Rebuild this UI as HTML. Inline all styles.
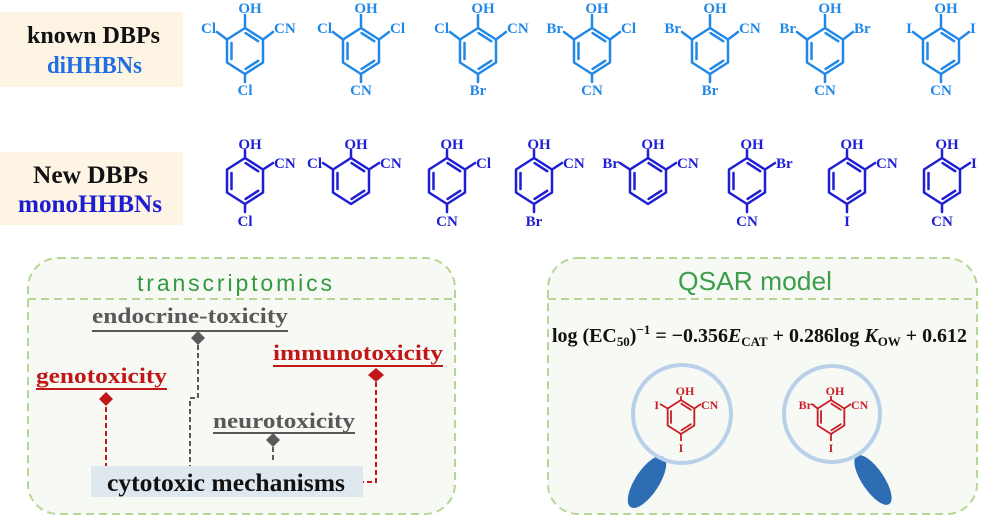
<!DOCTYPE html>
<html><head><meta charset="utf-8">
<style>
html,body{margin:0;padding:0;background:#fff;}
svg{display:block;}
.m{font-family:"Liberation Serif",serif;font-weight:bold;font-size:15px;}
.s{font-family:"Liberation Serif",serif;font-weight:bold;}
.g{font-family:"Liberation Sans",sans-serif;}
</style></head>
<body>
<svg width="981" height="516" viewBox="0 0 981 516" xmlns="http://www.w3.org/2000/svg">
<defs>
<g id="r" fill="none" stroke-width="2.5" stroke-linejoin="round" stroke-linecap="round">
<path d="M0,-23 L18,-11.5 L18,11.5 L0,23 L-18,11.5 L-18,-11.5 Z"/>
<path d="M-13.5,-8 V8 M0.6,-17.9 L13.2,-9.8 M13.2,9.8 L0.6,17.9"/>
</g>
</defs>

<!-- label boxes -->
<rect x="0" y="12" width="183" height="75" fill="#fdf4e4"/>
<text class="s" x="27" y="43" font-size="24" textLength="133" lengthAdjust="spacingAndGlyphs" fill="#111">known DBPs</text>
<text class="s" x="47" y="73" font-size="24" textLength="95" lengthAdjust="spacingAndGlyphs" fill="#1f6fe0">diHHBNs</text>

<rect x="0" y="152" width="183" height="73" fill="#fdf4e4"/>
<text class="s" x="33" y="183" font-size="25" textLength="115" lengthAdjust="spacingAndGlyphs" fill="#111">New DBPs</text>
<text class="s" x="18" y="212" font-size="25" textLength="144" lengthAdjust="spacingAndGlyphs" fill="#1c1cd0">monoHHBNs</text>

<!-- Row 1 -->
<g stroke="#2288e8" fill="#2288e8">
<use href="#r" x="245" y="51"/><use href="#r" x="361" y="51"/><use href="#r" x="478" y="51"/>
<use href="#r" x="592" y="51"/><use href="#r" x="710" y="51"/><use href="#r" x="825" y="51"/>
<use href="#r" x="941" y="51"/>
<path fill="none" stroke-width="2.5" stroke-linecap="round" d="
M245,28V15 M227,39.5L217,32 M263,39.5L273,32 M245,74V82
M361,28V15 M343,39.5L333,32 M379,39.5L389,32 M361,74V82
M478,28V15 M460,39.5L450,32 M496,39.5L506,32 M478,74V82
M592,28V15 M574,39.5L564,32 M610,39.5L620,32 M592,74V82
M710,28V15 M692,39.5L682,32 M728,39.5L738,32 M710,74V82
M825,28V15 M807,39.5L797,32 M843,39.5L853,32 M825,74V82
M941,28V15 M923,39.5L913,32 M959,39.5L969,32 M941,74V82"/>
</g>
<g class="m" fill="#2288e8" stroke="none">
<text x="250" y="13" text-anchor="middle">OH</text><text x="216" y="33" text-anchor="end">Cl</text><text x="274" y="33">CN</text><text x="245" y="95" text-anchor="middle">Cl</text>
<text x="366" y="13" text-anchor="middle">OH</text><text x="332" y="33" text-anchor="end">Cl</text><text x="390" y="33">Cl</text><text x="361" y="95" text-anchor="middle">CN</text>
<text x="483" y="13" text-anchor="middle">OH</text><text x="449" y="33" text-anchor="end">Cl</text><text x="507" y="33">CN</text><text x="478" y="95" text-anchor="middle">Br</text>
<text x="597" y="13" text-anchor="middle">OH</text><text x="563" y="33" text-anchor="end">Br</text><text x="621" y="33">Cl</text><text x="592" y="95" text-anchor="middle">CN</text>
<text x="715" y="13" text-anchor="middle">OH</text><text x="681" y="33" text-anchor="end">Br</text><text x="739" y="33">CN</text><text x="710" y="95" text-anchor="middle">Br</text>
<text x="830" y="13" text-anchor="middle">OH</text><text x="796" y="33" text-anchor="end">Br</text><text x="854" y="33">Br</text><text x="825" y="95" text-anchor="middle">CN</text>
<text x="946" y="13" text-anchor="middle">OH</text><text x="912" y="33" text-anchor="end">I</text><text x="970" y="33">I</text><text x="941" y="95" text-anchor="middle">CN</text>
</g>

<!-- Row 2 -->
<g stroke="#1e1ed2" fill="#1e1ed2">
<use href="#r" x="245" y="181"/><use href="#r" x="351" y="181"/><use href="#r" x="447" y="181"/>
<use href="#r" x="534" y="181"/><use href="#r" x="648" y="181"/><use href="#r" x="747" y="181"/>
<use href="#r" x="847" y="181"/><use href="#r" x="942" y="181"/>
<path fill="none" stroke-width="2.5" stroke-linecap="round" d="
M245,158V150 M263,169.5L273,163 M245,204V212
M351,158V150 M333,169.5L323,163 M369,169.5L379,163
M447,158V150 M465,169.5L475,163 M447,204V212
M534,158V150 M552,169.5L562,163 M534,204V212
M648,158V150 M630,169.5L620,163 M666,169.5L676,163
M747,158V150 M765,169.5L775,163 M747,204V212
M847,158V150 M865,169.5L875,163 M847,204V212
M942,158V150 M960,169.5L970,163 M942,204V212"/>
</g>
<g class="m" fill="#1e1ed2" stroke="none">
<text x="250" y="149" text-anchor="middle">OH</text><text x="274" y="168">CN</text><text x="245" y="226" text-anchor="middle">Cl</text>
<text x="356" y="149" text-anchor="middle">OH</text><text x="322" y="168" text-anchor="end">Cl</text><text x="380" y="168">CN</text>
<text x="452" y="149" text-anchor="middle">OH</text><text x="476" y="168">Cl</text><text x="447" y="226" text-anchor="middle">CN</text>
<text x="539" y="149" text-anchor="middle">OH</text><text x="563" y="168">CN</text><text x="534" y="226" text-anchor="middle">Br</text>
<text x="653" y="149" text-anchor="middle">OH</text><text x="619" y="168" text-anchor="end">Br</text><text x="677" y="168">CN</text>
<text x="752" y="149" text-anchor="middle">OH</text><text x="776" y="168">Br</text><text x="747" y="226" text-anchor="middle">CN</text>
<text x="852" y="149" text-anchor="middle">OH</text><text x="876" y="168">CN</text><text x="847" y="226" text-anchor="middle">I</text>
<text x="947" y="149" text-anchor="middle">OH</text><text x="971" y="168">I</text><text x="942" y="226" text-anchor="middle">CN</text>
</g>

<!-- Bottom-left box -->
<rect x="28" y="258" width="427" height="256" rx="30" ry="30" fill="#f7f9f4" stroke="#b4d795" stroke-width="2" stroke-dasharray="8 5"/>
<line x1="28" y1="299" x2="455" y2="299" stroke="#b4d795" stroke-width="2" stroke-dasharray="8 5"/>
<text class="g" x="137" y="291" font-size="23" textLength="195" lengthAdjust="spacing" fill="#33993f">transcriptomics</text>

<!-- connectors -->
<g fill="none" stroke-width="2" stroke-dasharray="5 3">
<path d="M198,345 V398 H190 V466" stroke="#5a5a5a"/>
<path d="M106,407 V466" stroke="#c01818"/>
<path d="M273,447 V463" stroke="#5a5a5a"/>
<path d="M376,382 V482 H363" stroke="#c01818"/>
</g>
<polygon points="198,331 205,338 198,345 191,338" fill="#5a5a5a"/>
<polygon points="106,392 113,399 106,406 99,399" fill="#c01818"/>
<polygon points="273,433 280,440 273,447 266,440" fill="#5a5a5a"/>
<polygon points="376,368 384,375 376,382 368,375" fill="#c01818"/>

<text class="s" x="92" y="323" font-size="22" textLength="196" lengthAdjust="spacingAndGlyphs" fill="#595959">endocrine-toxicity</text>
<line x1="92" y1="331" x2="288" y2="331" stroke="#595959" stroke-width="2"/>
<text class="s" x="36" y="383" font-size="22" textLength="131" lengthAdjust="spacingAndGlyphs" fill="#c01818">genotoxicity</text>
<line x1="36" y1="389" x2="167" y2="389" stroke="#c01818" stroke-width="2"/>
<text class="s" x="213" y="428" font-size="22" textLength="142" lengthAdjust="spacingAndGlyphs" fill="#595959">neurotoxicity</text>
<line x1="213" y1="433" x2="355" y2="433" stroke="#595959" stroke-width="2"/>
<text class="s" x="273" y="360" font-size="22" textLength="170" lengthAdjust="spacingAndGlyphs" fill="#c01818">immunotoxicity</text>
<line x1="273" y1="366" x2="443" y2="366" stroke="#c01818" stroke-width="2"/>

<rect x="91" y="466" width="272" height="31" fill="#dfe8ee"/>
<text class="s" x="107" y="491" font-size="25" textLength="238" lengthAdjust="spacingAndGlyphs" fill="#111">cytotoxic mechanisms</text>

<!-- Bottom-right box -->
<rect x="548" y="258" width="429" height="256" rx="30" ry="30" fill="#f7f9f4" stroke="#b4d795" stroke-width="2" stroke-dasharray="8 5"/>
<line x1="548" y1="299" x2="977" y2="299" stroke="#b4d795" stroke-width="2" stroke-dasharray="8 5"/>
<text class="g" x="678" y="290" font-size="26" textLength="154" lengthAdjust="spacingAndGlyphs" fill="#3c9e4a">QSAR model</text>

<text class="s" x="552" y="342" font-size="20" textLength="415" lengthAdjust="spacingAndGlyphs" fill="#111">log (EC<tspan font-size="13" dy="4">50</tspan><tspan dy="-4">)</tspan><tspan font-size="13" dy="-8">−1</tspan><tspan dy="8"> = −0.356</tspan><tspan font-style="italic">E</tspan><tspan font-size="13" dy="4">CAT</tspan><tspan dy="-4"> + 0.286log </tspan><tspan font-style="italic">K</tspan><tspan font-size="13" dy="4">OW</tspan><tspan dy="-4"> + 0.612</tspan></text>

<!-- magnifiers -->
<ellipse cx="647" cy="482" rx="30" ry="12" transform="rotate(-57 647 482)" fill="#2c6db4"/>
<ellipse cx="873" cy="480" rx="29" ry="11" transform="rotate(56 873 480)" fill="#2c6db4"/>
<circle cx="682" cy="414" r="49" fill="none" stroke="#b9d0ea" stroke-width="4"/>
<circle cx="832" cy="414" r="48" fill="none" stroke="#b9d0ea" stroke-width="4"/>

<g stroke="#c81e28" fill="#c81e28">
<use href="#r" transform="translate(681,417) scale(0.74)"/>
<use href="#r" transform="translate(831,417) scale(0.74)"/>
<path fill="none" stroke-width="1.8" d="
M681,400V396 M667.7,408.5L660,404 M694.3,408.5L701,404 M681,434V441
M831,400V396 M817.7,408.5L812,404 M844.3,408.5L851,404 M831,434V441"/>
</g>
<g class="s" font-size="12" fill="#c81e28" stroke="none">
<text x="685" y="395" text-anchor="middle">OH</text><text x="659" y="409" text-anchor="end">I</text><text x="701" y="409">CN</text><text x="681" y="452" text-anchor="middle">I</text>
<text x="835" y="395" text-anchor="middle">OH</text><text x="812" y="409" text-anchor="end">Br</text><text x="851" y="409">CN</text><text x="831" y="452" text-anchor="middle">I</text>
</g>
</svg>
</body></html>
